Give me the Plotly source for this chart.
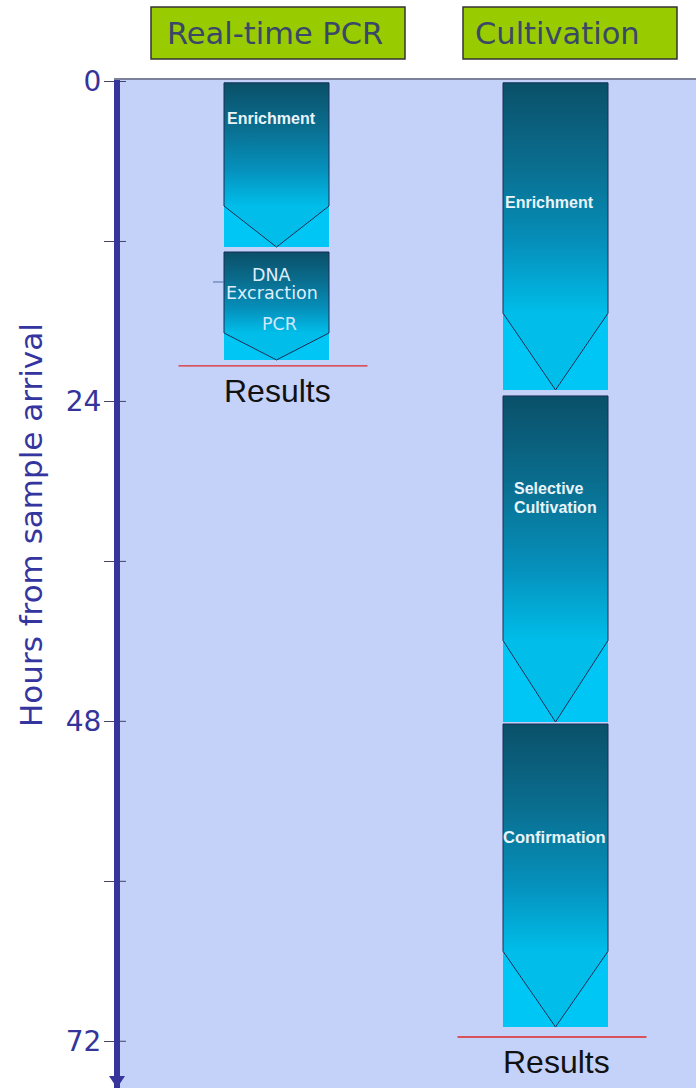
import plotly.graph_objects as go

# ---------------- data ----------------
methods = ["Real-time PCR", "Cultivation"]
stage_labels = ["Enrichment", "DNA<br>Excraction", "Enrichment", "Selective<br>Cultivation", "Confirmation"]
stage_method = [0, 0, 1, 1, 1]
stage_start = [0.1, 12.79, 0.1, 23.59, 48.2]
stage_end = [12.42, 20.89, 23.14, 48.05, 70.93]
sub_labels = ["PCR"]           # second label inside the DNA extraction stage
sub_label_stage = [1]
results_hours = [21.34, 71.68]
results_label = "Results"
tick_hours = [0, 24, 48, 72]
minor_tick_hours = [12, 36, 60]
axis_title = "Hours from sample arrival"

# ---------------- layout constants ----------------
W, H = 696, 1088
L, T = 120, 80
PX_PER_H = 13.33
Y0 = 81.5
col_center = [276.5, 555.5]
col_half = 52.5
v_frac = 0.25

AXIS_BLUE = "#35359c"
CYAN = "#00c6f5"
GRAD = [[0, "#0a5069"], [0.35, "#0a6d8e"], [0.7, "#0590bb"], [1, "#00bde9"]]
OUTLINE = "#1d2d55"
BG = "#c4d2fa"

def px_to_paper_x(px):
    return (px - L) / (W - L)

def px_to_paper_y(py):
    return (H - py) / (H - T)

fig = go.Figure()

# stage boxes
for i, lab in enumerate(stage_labels):
    c = col_center[stage_method[i]]
    x0, x1 = c - col_half, c + col_half
    t, b = stage_start[i], stage_end[i]
    v = b - v_frac * (b - t)
    fig.add_trace(go.Scatter(
        x=[x0, x1, x1, x0, x0], y=[t, t, b, b, t], mode="lines",
        fill="toself", fillcolor=CYAN, line=dict(width=0),
        hoverinfo="skip", showlegend=False))
    fig.add_trace(go.Scatter(
        x=[x0, x1, x1, c, x0, x0], y=[t, t, v, b, v, t], mode="lines",
        fill="toself",
        fillgradient=dict(type="vertical", colorscale=GRAD, start=t, stop=v),
        line=dict(color=OUTLINE, width=1),
        hoverinfo="skip", showlegend=False))

# results lines
for m, rh in enumerate(results_hours):
    c = col_center[m]
    fig.add_trace(go.Scatter(
        x=[c - 98, c + 91], y=[rh, rh], mode="lines",
        line=dict(color="#e02828", width=1.3),
        hoverinfo="skip", showlegend=False))

annotations = []

BOLD_FONT = "Liberation Sans"
REG_FONT = "DejaVu Sans"

# stage label placement (style/position): list of (text lines, x, hour, anchor, bold, size)
label_style = [
    [(225, 2.81, "left", True, 16)],
    [(271, 14.5, "center", False, 17.5), (271.5, 15.85, "center", False, 17.5)],
    [(503, 9.04, "left", True, 16)],
    [(512, 30.56, "left", True, 16), (512, 31.98, "left", True, 16)],
    [(554.5, 56.68, "center", True, 16.5)],
]
for i, lab in enumerate(stage_labels):
    lines = lab.split("<br>")
    for ln, st in zip(lines, label_style[i]):
        x, y, anc, bold, size = st
        annotations.append(dict(
            x=x, y=y, xref="x", yref="y",
            text="<b>%s</b>" % ln if bold else ln, showarrow=False,
            xanchor=anc, yanchor="middle",
            font=dict(family=BOLD_FONT if bold else REG_FONT, size=size,
                      color="#eaf4fb" if bold else "#dfeeff")))
for j, sl in enumerate(sub_labels):
    annotations.append(dict(
        x=279, y=18.19, xref="x", yref="y", text=sl,
        showarrow=False, xanchor="center", yanchor="middle",
        font=dict(family=REG_FONT, size=17.5, color="#d2e8ff")))

# results text
for m, rh in enumerate(results_hours):
    annotations.append(dict(
        x=col_center[m] + 1, y=rh + 1.9, xref="x", yref="y", text=results_label,
        showarrow=False, xanchor="center", yanchor="middle",
        font=dict(family="Liberation Sans", size=32, color="#111111")))

# header texts
header_box = [(151, 405), (463, 677)]
header_text_x = [165, 473]
for m, name in enumerate(methods):
    annotations.append(dict(
        x=px_to_paper_x(header_text_x[m]), y=px_to_paper_y(34), xref="paper", yref="paper",
        text=name, showarrow=False, xanchor="left", yanchor="middle",
        font=dict(family="DejaVu Sans", size=30.5, color="#3a4868")))

# axis title
annotations.append(dict(
    x=px_to_paper_x(31), y=px_to_paper_y(525), xref="paper", yref="paper",
    text=axis_title, textangle=-90, showarrow=False,
    xanchor="center", yanchor="middle",
    font=dict(family="DejaVu Sans", size=31, color="#3535a0")))

shapes = []
for m in range(len(methods)):
    bx0, bx1 = header_box[m]
    shapes.append(dict(type="rect", xref="paper", yref="paper",
                       x0=px_to_paper_x(bx0), x1=px_to_paper_x(bx1),
                       y0=px_to_paper_y(59), y1=px_to_paper_y(7),
                       fillcolor="#99cc00", line=dict(color="#333333", width=1.5)))

# inner parts of tick marks crossing the axis line
for th in tick_hours + minor_tick_hours:
    shapes.append(dict(type="line", xref="x", yref="y", x0=L, x1=L + 6, y0=th, y1=th,
                       line=dict(color="#444466", width=1)))

# stray connector mark
shapes.append(dict(type="line", xref="x", yref="y", x0=213, x1=224, y0=15.04, y1=15.04,
                   line=dict(color="#4a70a8", width=1)))

# arrow head of the time axis
ax_c = 117
shapes.append(dict(type="path", xref="paper", yref="paper",
                   path="M %f %f L %f %f L %f %f Z" % (
                       px_to_paper_x(ax_c - 8), px_to_paper_y(1076),
                       px_to_paper_x(ax_c + 8), px_to_paper_y(1076),
                       px_to_paper_x(ax_c), px_to_paper_y(1088)),
                   fillcolor=AXIS_BLUE, line=dict(width=0)))

y_top = -(Y0 - T) / PX_PER_H
y_bot = (H - Y0) / PX_PER_H

fig.update_layout(
    width=W, height=H,
    margin=dict(l=L, r=0, t=T, b=0),
    paper_bgcolor="white", plot_bgcolor=BG,
    showlegend=False,
    annotations=annotations, shapes=shapes,
    xaxis=dict(range=[L, W], side="top", showline=True, linecolor="#7c8098", linewidth=1.5,
               showticklabels=False, ticks="", showgrid=False, zeroline=False, fixedrange=True),
    yaxis=dict(range=[y_bot, y_top], showline=True, linecolor=AXIS_BLUE, linewidth=6,
               tickvals=tick_hours, ticktext=[str(v) for v in tick_hours],
               ticks="outside", ticklen=10, tickwidth=1, tickcolor="#444466",
               ticklabelstandoff=-3,
               minor=dict(tickvals=minor_tick_hours, ticks="outside", ticklen=10,
                          tickwidth=1, tickcolor="#444466", showgrid=False),
               tickfont=dict(family="DejaVu Sans", size=28, color="#34349a"),
               showgrid=False, zeroline=False, fixedrange=True),
)

fig.write_html("out.html")
